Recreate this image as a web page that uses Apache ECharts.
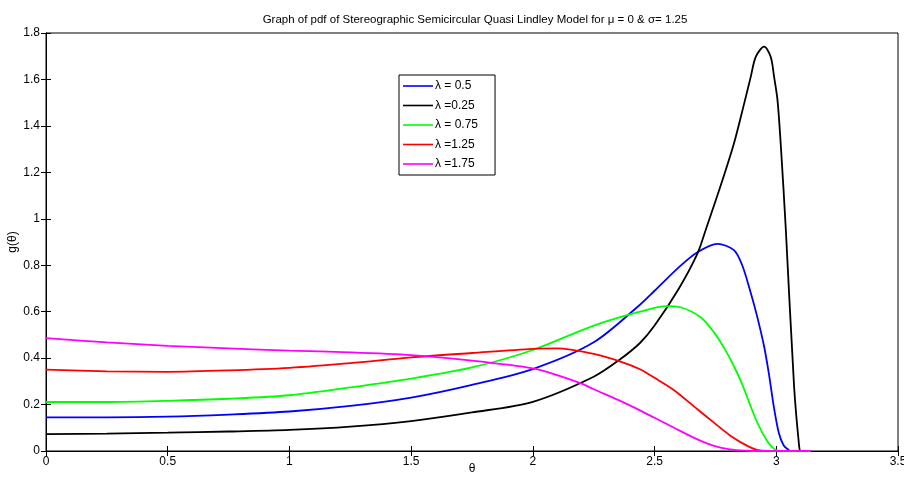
<!DOCTYPE html>
<html>
<head>
<meta charset="utf-8">
<script src="https://cdn.jsdelivr.net/npm/echarts@6/dist/echarts.min.js"></script>
<style>html,body{margin:0;padding:0;background:#fff}#c{width:904px;height:485px}</style>
</head>
<body>
<div id="c"></div>
<script>
const seriesNames = ['λ = 0.5', 'λ =0.25', 'λ = 0.75', 'λ =1.25', 'λ =1.75'];
const seriesColors = ['#0000FF', '#000000', '#00FF00', '#FF0000', '#FF00FF'];
const xTicks = [0, 0.5, 1, 1.5, 2, 2.5, 3, 3.5];
const yTicks = [0, 0.2, 0.4, 0.6, 0.8, 1, 1.2, 1.4, 1.6, 1.8];

const lambda05 = [[0,0.145],[0.25,0.145],[0.5,0.148],[0.75,0.157],[1,0.170],[1.25,0.194],[1.5,0.230],[1.75,0.285],[2,0.353],[2.25,0.468],[2.44,0.63],[2.5,0.69],[2.607,0.798],[2.676,0.856],[2.758,0.892],[2.826,0.865],[2.86,0.80],[2.89,0.70],[2.92,0.585],[2.95,0.45],[2.97,0.33],[2.99,0.19],[3.01,0.08],[3.03,0.025],[3.05,0.005],[3.06,0],[3.1416,0]];
const lambda025 = [[0,0.073],[0.25,0.075],[0.5,0.079],[0.75,0.084],[1,0.091],[1.25,0.105],[1.5,0.129],[1.75,0.166],[2,0.212],[2.25,0.32],[2.36,0.396],[2.44,0.465],[2.5,0.54],[2.6,0.70],[2.676,0.85],[2.71,0.952],[2.772,1.144],[2.826,1.324],[2.868,1.496],[2.895,1.611],[2.916,1.698],[2.95,1.741],[2.977,1.698],[2.991,1.611],[3.005,1.511],[3.019,1.309],[3.039,0.957],[3.073,0.28],[3.094,0.02],[3.1,0],[3.1416,0]];
const lambda075 = [[0,0.211],[0.25,0.211],[0.5,0.216],[0.75,0.225],[1,0.240],[1.25,0.274],[1.5,0.312],[1.75,0.36],[2,0.435],[2.25,0.540],[2.44,0.60],[2.55,0.624],[2.607,0.619],[2.689,0.576],[2.744,0.511],[2.785,0.445],[2.826,0.365],[2.861,0.285],[2.89,0.205],[2.923,0.12],[2.963,0.042],[2.99,0.01],[3.01,0],[3.1416,0]];
const lambda125 = [[0,0.35],[0.25,0.343],[0.5,0.341],[0.75,0.347],[1,0.358],[1.25,0.378],[1.5,0.403],[1.75,0.422],[2,0.440],[2.1,0.442],[2.25,0.418],[2.36,0.385],[2.44,0.352],[2.5,0.315],[2.58,0.262],[2.676,0.18],[2.744,0.122],[2.813,0.065],[2.881,0.022],[2.92,0.005],[2.96,0],[3.1416,0]];
const lambda175 = [[0,0.486],[0.25,0.468],[0.5,0.453],[0.75,0.442],[1,0.432],[1.25,0.425],[1.5,0.413],[1.75,0.389],[2,0.356],[2.1,0.327],[2.2,0.29],[2.25,0.266],[2.35,0.22],[2.44,0.175],[2.5,0.143],[2.58,0.10],[2.676,0.05],[2.744,0.022],[2.81,0.007],[2.88,0.001],[2.92,0],[3.1416,0]];
const seriesData = [lambda05, lambda025, lambda075, lambda125, lambda175];

const chart = echarts.init(document.getElementById('c'));
const font = 'Liberation Sans, Arial, sans-serif';
const tickStyle = {show: true, inside: true, length: 5, lineStyle: {color: '#000'}};
chart.setOption({
  animation: false,
  backgroundColor: '#fff',
  title: {
    text: 'Graph of pdf of Stereographic Semicircular Quasi Lindley Model for μ = 0 & σ= 1.25',
    left: 470, top: 9, textAlign: 'center',
    textStyle: {fontFamily: font, fontSize: 11.5, fontWeight: 'normal', color: '#000'}
  },
  legend: {
    orient: 'vertical', left: 399, top: 75,
    itemWidth: 30, itemHeight: 10, itemGap: 7.5,
    padding: [5, 17, 5, 4],
    borderColor: '#000', borderWidth: 1, backgroundColor: '#fff',
    textStyle: {fontFamily: font, fontSize: 12, color: '#000', padding: [0, 0, 0, -3]},
    data: seriesNames.map(n => ({name: n, icon: 'path://M0,4.2 L30,4.2 L30,5.8 L0,5.8 Z'}))
  },
  grid: {left: 46, right: 6, top: 33, bottom: 34, containLabel: false, outerBoundsMode: 'none', show: true, borderColor: '#000', borderWidth: 1},
  xAxis: [{
    type: 'value', min: 0, max: 3.5, interval: 0.5,
    name: 'θ', nameLocation: 'middle', nameGap: 12, nameMoveOverlap: false,
    nameTextStyle: {fontFamily: font, fontSize: 12, color: '#000'},
    axisLine: {show: true, lineStyle: {color: '#000'}},
    axisTick: tickStyle,
    axisLabel: {fontFamily: font, fontSize: 12, color: '#000', margin: 5, formatter: v => xTicks.includes(v) ? String(v) : ''},
    splitLine: {show: false}
  }, {
    type: 'value', min: 0, max: 3.5, interval: 0.5, position: 'top',
    axisLine: {show: true, lineStyle: {color: '#000'}}, axisTick: tickStyle,
    axisLabel: {show: false}, splitLine: {show: false}
  }],
  yAxis: [{
    type: 'value', min: 0, max: 1.8, interval: 0.2,
    name: 'g(θ)', nameLocation: 'middle', nameGap: 27, nameMoveOverlap: false,
    nameTextStyle: {fontFamily: font, fontSize: 12, color: '#000'},
    axisLine: {show: true, lineStyle: {color: '#000'}},
    axisTick: tickStyle,
    axisLabel: {fontFamily: font, fontSize: 12, color: '#000', margin: 6,
      formatter: v => { const t = yTicks.find(y => Math.abs(y - v) < 1e-9); return t === undefined ? '' : String(t); }},
    splitLine: {show: false}
  }, {
    type: 'value', min: 0, max: 1.8, interval: 0.2, position: 'right',
    axisLine: {show: true, lineStyle: {color: '#000'}}, axisTick: tickStyle,
    axisLabel: {show: false}, splitLine: {show: false}
  }],
  series: seriesNames.map((n, i) => ({
    name: n, type: 'line', data: seriesData[i],
    xAxisIndex: 0, yAxisIndex: 0,
    smooth: 0.3, symbol: 'none', showSymbol: false,
    lineStyle: {color: seriesColors[i], width: 1.8},
    itemStyle: {color: seriesColors[i]},
    clip: true
  }))
});
</script>
</body>
</html>
